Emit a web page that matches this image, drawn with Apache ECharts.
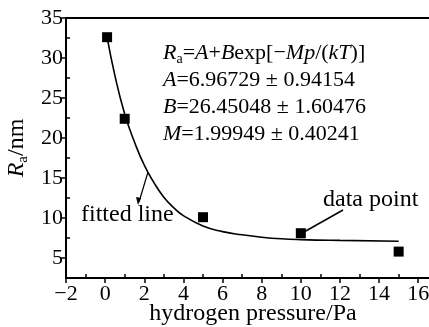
<!DOCTYPE html>
<html>
<head>
<meta charset="utf-8">
<script src="https://cdn.jsdelivr.net/npm/echarts@6/dist/echarts.min.js"></script>
<style>
  html, body { margin: 0; padding: 0; background: #fff; }
  #chart { width: 429px; height: 327px; }
</style>
</head>
<body>
<div id="chart"></div>
<script>
// measured points
const pressure = [0.1, 1, 5, 10, 15];
const roughness = [32.6, 22.4, 10.1, 8.1, 5.8];

// fitted curve
const fitP = [0.1, 0.5, 1, 1.5, 2, 2.5, 3, 3.5, 4, 5, 6, 7, 8, 9, 10, 12, 15];
const fitR = [32.6, 27.8, 23.0, 19.5, 16.6, 14.4, 12.6, 11.3, 10.3, 9.0, 8.3, 7.9, 7.6, 7.4, 7.3, 7.2, 7.1];

const xMajor = [-2, 0, 2, 4, 6, 8, 10, 12, 14, 16];
const xMinor = [-1, 1, 3, 5, 7, 9, 11, 13, 15];
const yMajor = [5, 10, 15, 20, 25, 30, 35];
const yMinor = [7.5, 12.5, 17.5, 22.5, 27.5, 32.5];

const font = '"Liberation Serif", "DejaVu Serif", serif';

const chart = echarts.init(document.getElementById('chart'));

const axisCommon = {
    type: 'value',
    splitLine: { show: false },
    axisLine: { onZero: false, lineStyle: { color: '#000', width: 2 } }
};

function eqLine(text, y) {
    return {
        type: 'text', x: 163, y: y,
        style: {
            text: text,
            verticalAlign: 'middle',
            rich: {
                i: { fontSize: 22, fontStyle: 'italic', fontFamily: font, fill: '#000' },
                n: { fontSize: 22, fontFamily: font, fill: '#000' },
                s: { fontSize: 14, fontFamily: font, fill: '#000', padding: [12, 0, 0, 0] }
            }
        }
    };
}

chart.setOption({
    animation: false,
    textStyle: { fontFamily: font, color: '#000' },
    grid: { left: 66, top: 18, right: 0, bottom: 49, outerBoundsMode: 'none' },
    xAxis: [
        Object.assign({}, axisCommon, {
            min: -2, max: 16.55,
            name: 'hydrogen pressure/Pa',
            nameLocation: 'middle',
            nameGap: 24,
            nameMoveOverlap: false,
            nameTextStyle: { fontSize: 24, fontFamily: font, color: '#000', padding: [0, 0, 0, 11] },
            axisTick: { customValues: xMajor, length: 5, inside: false, lineStyle: { color: '#000', width: 1.5 } },
            axisLabel: {
                customValues: xMajor, fontSize: 22, color: '#000', margin: 5, fontFamily: font,
                formatter: v => (v < 0 ? '\u2212' + (-v) : String(v))
            }
        }),
        Object.assign({}, axisCommon, {
            min: -2, max: 16.55, position: 'bottom',
            axisLine: { show: false, onZero: false },
            axisTick: { customValues: xMinor, length: 4, inside: true, lineStyle: { color: '#000', width: 1.5 } },
            axisLabel: { show: false }
        })
    ],
    yAxis: [
        Object.assign({}, axisCommon, {
            min: 2.5, max: 35,
            name: '{i|R}{s|a}/nm',
            nameLocation: 'middle',
            nameGap: 33,
            nameRotate: 90,
            nameTextStyle: {
                fontSize: 24, fontFamily: font, color: '#000',
                rich: {
                    i: { fontSize: 24, fontStyle: 'italic', fontFamily: font, color: '#000' },
                    n: { fontSize: 24, fontFamily: font, color: '#000' },
                    s: { fontSize: 15, fontFamily: font, color: '#000', padding: [12, 0, 0, 0] }
                }
            },
            axisTick: { customValues: yMajor, length: 5, inside: false, lineStyle: { color: '#000', width: 1.5 } },
            axisLabel: { customValues: yMajor, fontSize: 22, color: '#000', margin: 3, fontFamily: font }
        }),
        Object.assign({}, axisCommon, {
            min: 2.5, max: 35, position: 'left',
            axisLine: { show: false, onZero: false },
            axisTick: { customValues: yMinor, length: 4, inside: true, lineStyle: { color: '#000', width: 1.5 } },
            axisLabel: { show: false }
        })
    ],
    series: [
        {
            name: 'fitted line',
            type: 'line',
            smooth: true,
            showSymbol: false,
            lineStyle: { color: '#000', width: 1.6 },
            data: fitP.map((p, i) => [p, fitR[i]])
        },
        {
            name: 'data point',
            type: 'scatter',
            symbol: 'rect',
            symbolSize: 10,
            itemStyle: { color: '#000', opacity: 1 },
            data: pressure.map((p, i) => [p, roughness[i]])
        }
    ],
    graphic: [
        // top frame line
        { type: 'line', shape: { x1: 66, y1: 18, x2: 429, y2: 18 }, style: { stroke: '#000', lineWidth: 2 } },
        eqLine('{i|R}{s|a}{n|=}{i|A}{n|+}{i|B}{n|exp[\u2212}{i|Mp}{n|/(}{i|kT}{n|)]}', 53),
        eqLine('{i|A}{n|=6.96729 \u00b1 0.94154}', 80),
        eqLine('{i|B}{n|=26.45048 \u00b1 1.60476}', 107),
        eqLine('{i|M}{n|=1.99949 \u00b1 0.40241}', 134),
        // fitted line label + arrow
        { type: 'text', x: 81, y: 215, style: { text: 'fitted line', verticalAlign: 'middle', fontSize: 24, fontFamily: font, fill: '#000' } },
        { type: 'line', shape: { x1: 148, y1: 172, x2: 139, y2: 202 }, style: { stroke: '#000', lineWidth: 1.2 } },
        { type: 'polygon', shape: { points: [[138, 205], [136, 197], [141, 198]] }, style: { fill: '#000' } },
        // data point label + leader
        { type: 'text', x: 323, y: 200, style: { text: 'data point', verticalAlign: 'middle', fontSize: 24, fontFamily: font, fill: '#000' } },
        { type: 'line', shape: { x1: 343, y1: 210, x2: 304, y2: 232 }, style: { stroke: '#000', lineWidth: 1.5 } }
    ]
});
</script>
</body>
</html>
